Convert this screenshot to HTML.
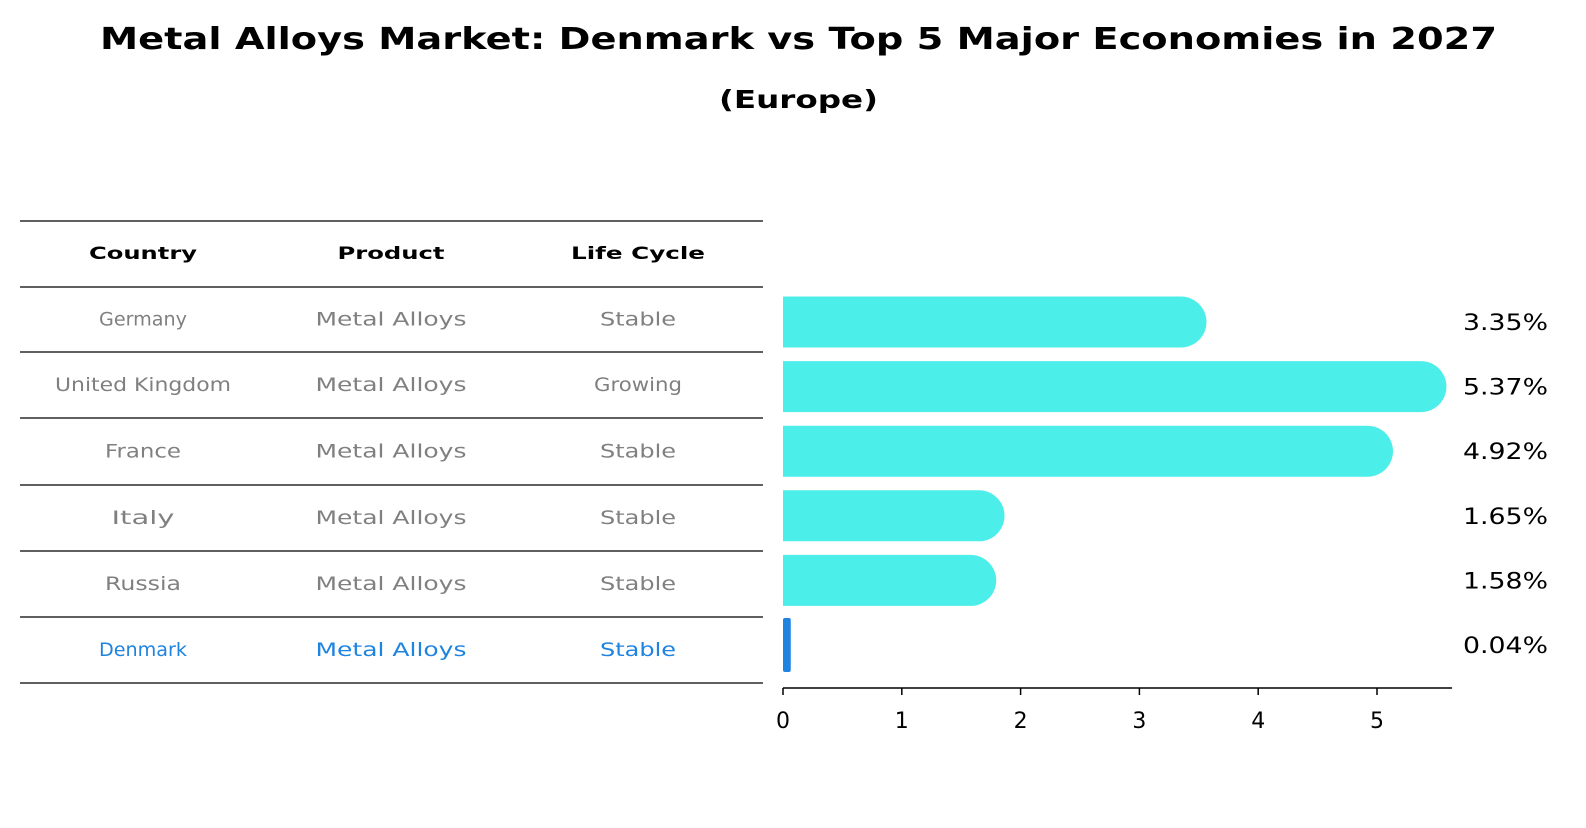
<!DOCTYPE html>
<html><head><meta charset="utf-8"><style>
body{margin:0;background:#fff;}
svg text{font-family:"DejaVu Sans","Liberation Sans",sans-serif;}
</style></head><body>
<svg width="1586" height="823" viewBox="0 0 1586 823" xmlns="http://www.w3.org/2000/svg">
<text x="100" y="49" font-size="30" font-weight="bold" textLength="1397" lengthAdjust="spacingAndGlyphs">Metal Alloys Market: Denmark vs Top 5 Major Economies in 2027</text>
<text x="719" y="108" font-size="25" font-weight="bold" textLength="159" lengthAdjust="spacingAndGlyphs">(Europe)</text>
<g id="table"></g>
<g id="bars"></g>
</svg>
<script>
const countries=["Germany","United Kingdom","France","Italy","Russia","Denmark"];
const products=["Metal Alloys","Metal Alloys","Metal Alloys","Metal Alloys","Metal Alloys","Metal Alloys"];
const lifecycles=["Stable","Growing","Stable","Stable","Stable","Stable"];
const values=[3.35,5.37,4.92,1.65,1.58,0.04];
const valueLabels=["3.35%","5.37%","4.92%","1.65%","1.58%","0.04%"];
const ticks=[0,1,2,3,4,5];

const NS="http://www.w3.org/2000/svg";
function mk(t,a,p,txt){const e=document.createElementNS(NS,t);for(const k in a)e.setAttribute(k,a[k]);if(txt!==undefined)e.textContent=txt;p.appendChild(e);return e;}
const x0=783,ppu=118.8;
const xs=v=>x0+v*ppu;
const yc=i=>322+64.6*i;
const cw=9.4; // approx per-char width for body text in reference
function fitLen(s,k){return (s.length*k).toFixed(0);}

const tb=document.getElementById('table');
const lines=[221,287,352,418,485,551,617,683];
lines.forEach((y,i)=>{const l=mk('line',{x1:20,x2:763,y1:y,y2:y,stroke:'#000','stroke-width':1.2},tb);

});
const cx=[143,391,638];
const hw=[108,107,134];
["Country","Product","Life Cycle"].forEach((h,j)=>{const t=mk('text',{x:cx[j],y:259,'text-anchor':'middle','font-size':17,'font-weight':'bold',textLength:hw[j],lengthAdjust:'spacingAndGlyphs'},tb,h);

});
countries.forEach((c,i)=>{
  const col=i===5?'#1f83e0':'#808080';
  const y=(lines[i+1]+lines[i+2])/2+6;
  [c,products[i],lifecycles[i]].forEach((s,j)=>{
    const t=mk('text',{x:cx[j],y:y,'text-anchor':'middle','font-size':19,fill:col,textLength:fitLen(s,12.6),lengthAdjust:'spacingAndGlyphs'},tb,s);
    
    
  });
});

const bg=document.getElementById('bars');
const h=51,r=25.5;
values.forEach((v,i)=>{
  const y=yc(i);
  if(i===5){
    const b=mk('rect',{x:x0,y:y-27,width:Math.max(4,xs(v)-x0+3),height:54,fill:'#1f83e0',rx:2},bg);
    
    
  } else {
    const xe=xs(v);
    const d=`M${x0},${y-h/2} L${xe},${y-h/2} A${r},${r} 0 0 1 ${xe},${y+h/2} L${x0},${y+h/2} Z`;
    const b=mk('path',{d:d,fill:'#4ceee9'},bg);
    
    
  }
  const t=mk('text',{x:1463,y:y+8,'font-size':22,textLength:85,lengthAdjust:'spacingAndGlyphs'},bg,valueLabels[i]);
  
  
});
const ax=mk('line',{x1:x0,x2:1452,y1:688,y2:688,stroke:'#000','stroke-width':1.5},bg);


ticks.forEach(t=>{
  const tk=mk('line',{x1:xs(t),x2:xs(t),y1:688,y2:695,stroke:'#000','stroke-width':1.5},bg);
  
  
  const tl=mk('text',{x:xs(t),y:728,'text-anchor':'middle','font-size':22},bg,String(t));
  
  
});
</script>
</body></html>
